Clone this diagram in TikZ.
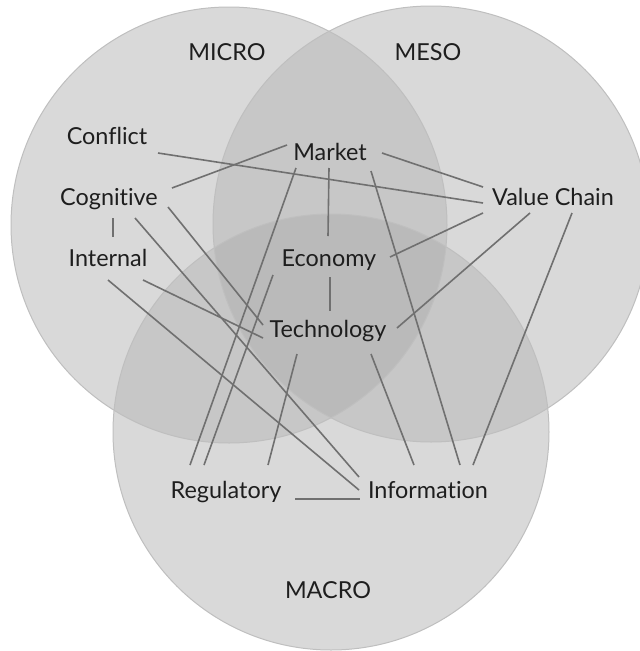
\documentclass[tikz,border=0pt]{standalone}
\usepackage{fontspec}
\setmainfont{Lato}[Ligatures={NoCommon,NoContextual}]
\definecolor{one}{HTML}{D9D9D9}
\definecolor{two}{HTML}{C7C7C7}
\definecolor{three}{HTML}{BABABA}
\definecolor{rim}{HTML}{BFBFBF}
\definecolor{link}{HTML}{707070}
\definecolor{ink}{HTML}{1E1E1E}
\begin{document}
\begin{tikzpicture}[x=1pt,y=-1pt,
  lbl/.style={anchor=base,inner sep=0pt,text=ink,font=\fontsize{23.4}{27}\selectfont},
  conn/.style={draw=link,line width=1.6pt}]
\useasboundingbox (0,0) rectangle (640,651);
\clip (0,0) rectangle (640,651);
\def\micro{(229,225) circle[radius=218]}
\def\meso{(431,224) circle[radius=218]}
\def\macro{(331,432) circle[radius=218]}
% single regions
\fill[one] \micro;
\fill[one] \meso;
\fill[one] \macro;
% pairwise
\begin{scope}\clip \micro; \fill[two] \meso; \end{scope}
\begin{scope}\clip \micro; \fill[two] \macro; \end{scope}
\begin{scope}\clip \meso; \fill[two] \macro; \end{scope}
% triple
\begin{scope}\clip \micro; \clip \meso; \fill[three] \macro; \end{scope}
% rims
\draw[rim,line width=1pt] \micro;
\draw[rim,line width=1pt] \meso;
\draw[rim,line width=1pt] \macro;
% labels
\node[lbl] (microL) at (227,60) {MICRO};
\node[lbl] (mesoL) at (428,60) {MESO};
\node[lbl] (macroL) at (328,598) {MACRO};
\node[lbl] (conflict) at (107,144) {Conf\kern0pt lict};
\node[lbl] (cognitive) at (109,205) {Cognit\kern0pt ive};
\node[lbl] (internal) at (108,266) {Internal};
\node[lbl] (market) at (330,160) {Market};
\node[lbl] (vc) at (553,205) {Value Chain};
\node[lbl] (economy) at (329,266) {Economy};
\node[lbl] (tech) at (328,337) {Technology};
\node[lbl] (reg) at (226,498) {Regulatory};
\node[lbl] (info) at (428,498) {Informat\kern0pt ion};
% connectors
\draw[conn] ([shift={(51,9)}]conflict.base) -- ([shift={(-70,-2)}]vc.base);
\draw[conn] ([shift={(63,-17)}]cognitive.base) -- ([shift={(-43,-15)}]market.base);
\draw[conn] ([shift={(52,-7)}]market.base) -- ([shift={(-70,-18)}]vc.base);
\draw[conn] ([shift={(-1,8)}]market.base) -- ([shift={(-1,-30)}]economy.base);
\draw[conn] ([shift={(1,11)}]economy.base) -- ([shift={(2,-26)}]tech.base);
\draw[conn] ([shift={(61,-9)}]economy.base) -- ([shift={(-70,8)}]vc.base);
\draw[conn] ([shift={(69,-9)}]tech.base) -- ([shift={(-23,8)}]vc.base);
\draw[conn] ([shift={(19,8)}]vc.base) -- ([shift={(45,-33)}]info.base);
\draw[conn] ([shift={(41,11)}]market.base) -- ([shift={(32,-33)}]info.base);
\draw[conn] ([shift={(43,17)}]tech.base) -- ([shift={(-14,-33)}]info.base);
\draw[conn] ([shift={(-31,17)}]tech.base) -- ([shift={(42,-33)}]reg.base);
\draw[conn] ([shift={(-34,8)}]market.base) -- ([shift={(-36,-33)}]reg.base);
\draw[conn] ([shift={(-56,9)}]economy.base) -- ([shift={(-22,-33)}]reg.base);
\draw[conn] ([shift={(4,13)}]cognitive.base) -- ([shift={(5,-29)}]internal.base);
\draw[conn] ([shift={(59,2)}]cognitive.base) -- ([shift={(-65,-12)}]tech.base);
\draw[conn] ([shift={(26,13)}]cognitive.base) -- ([shift={(-69,-21)}]info.base);
\draw[conn] ([shift={(35,14)}]internal.base) -- ([shift={(-65,1)}]tech.base);
\draw[conn] ([shift={(0,14)}]internal.base) -- ([shift={(-69,-8)}]info.base);
\draw[conn] ([shift={(69,1)}]reg.base) -- ([shift={(-68,1)}]info.base);
\end{tikzpicture}
\end{document}
